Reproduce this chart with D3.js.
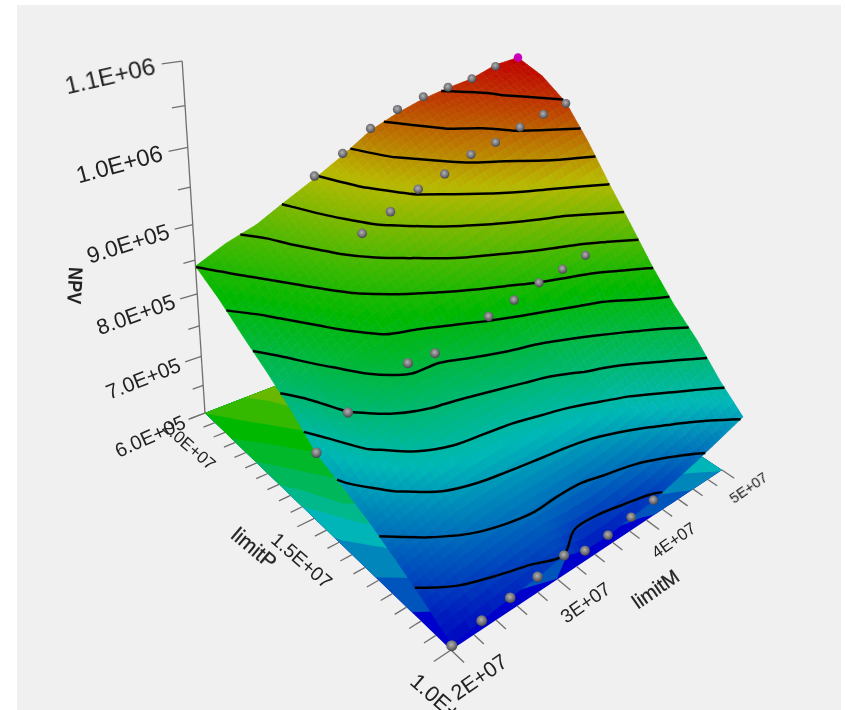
<!DOCTYPE html>
<html>
<head>
<meta charset="utf-8">
<script src="https://cdn.jsdelivr.net/npm/d3@7"></script>
<style>
  html, body { margin: 0; background: #fff; }
  svg { display: block; }
  text { font-family: 'Liberation Sans', Arial, sans-serif; fill: #222; }
</style>
</head>
<body>
<div id="graf"></div>
<script>
// I. Datos
limitM = [2e7, 2.25e7, 2.5e7, 2.75e7, 3e7, 3.25e7, 3.5e7, 3.75e7, 4e7, 4.25e7, 4.5e7, 4.75e7, 5e7]
limitP = [1e7, 1.1e7, 1.2e7, 1.3e7, 1.4e7, 1.5e7, 1.6e7, 1.7e7, 1.8e7, 1.9e7, 2e7]

// NPV en miles, una fila por cada limitP
npv10 = [609, 620, 628, 635, 643, 625, 625, 631, 638, 652, 667, 684, 702]
npv11 = [636, 650, 659, 666, 669, 667, 667, 673, 680, 691, 705, 720, 735]
npv12 = [659, 673, 686, 692, 696, 699, 702, 706, 715, 727, 742, 757, 773]
npv13 = [680, 697, 713, 723, 726, 729, 735, 743, 756, 766, 779, 792, 805]
npv14 = [697, 723, 744, 754, 759, 766, 774, 781, 791, 803, 814, 829, 843]
npv15 = [712, 755, 776, 791, 791, 802, 814, 826, 838, 848, 857, 870, 885]
npv16 = [744, 775, 799, 816, 827, 839, 853, 865, 878, 889, 899, 913, 926]
npv17 = [771, 797, 819, 840, 856, 872, 891, 906, 920, 934, 947, 959, 969]
npv18 = [795, 818, 842, 863, 886, 907, 926, 941, 957, 969, 983, 994, 1007]
npv19 = [821, 842, 861, 883, 907, 929, 950, 967, 984, 992, 1004, 1016, 1028]
npv20 = [841, 862, 877, 900, 922, 946, 973, 990, 1003, 1012, 1019, 1033, 1038]
npvFilas = [npv10, npv11, npv12, npv13, npv14, npv15, npv16, npv17, npv18, npv19, npv20]

// niveles de las curvas, en miles
niveles = [643.5, 672, 700, 728, 756, 784.5, 812.5, 840.5, 869, 897, 925, 953.5, 981.5, 1009.5]

// puntos evaluados: [limitM, limitP, NPV en miles]
puntos = [
  [3e7, 2e7, 926], [3.25e7, 2e7, 949], [3.5e7, 2e7, 976], [3.75e7, 2e7, 995], [4e7, 2e7, 1006],
  [4.25e7, 2e7, 1013], [4.5e7, 2e7, 1019], [4.75e7, 2e7, 1031],
  [3e7, 1.8e7, 890], [3.25e7, 1.8e7, 910], [3.5e7, 1.8e7, 932], [3.75e7, 1.8e7, 944], [4e7, 1.8e7, 963],
  [4.25e7, 1.8e7, 972], [4.5e7, 1.8e7, 986], [4.75e7, 1.8e7, 997], [5e7, 1.8e7, 1006],
  [2.25e7, 1.5e7, 756], [2.75e7, 1.5e7, 795], [3e7, 1.5e7, 793], [3.5e7, 1.5e7, 818], [3.75e7, 1.5e7, 829],
  [4e7, 1.5e7, 842], [4.25e7, 1.5e7, 850], [4.5e7, 1.5e7, 859], [2e7, 1.5e7, 713],
  [2e7, 1e7, 608], [2.25e7, 1e7, 619], [2.5e7, 1e7, 628], [2.75e7, 1e7, 635], [3e7, 1e7, 644],
  [3.25e7, 1e7, 624], [3.5e7, 1e7, 625], [3.75e7, 1e7, 632], [4e7, 1e7, 638]
]
puntoMax = [[5e7, 2e7, 1038]]

ticksZ = [600, 650, 700, 750, 800, 850, 900, 950, 1000, 1050, 1100]
etiquetasZ = ['6.0E+05', '7.0E+05', '8.0E+05', '9.0E+05', '1.0E+06', '1.1E+06']
valoresEtiquetasZ = [600, 700, 800, 900, 1000, 1100]
ticksP = d3.range(0, 21).map(i => 1e7 + i * 5e5)
etiquetasP = ['1.0E+07', '1.5E+07', '2.0E+07']
valoresEtiquetasP = [1e7, 1.5e7, 2e7]
ticksM = d3.range(0, 16).map(i => 2e7 + i * 2e6)
etiquetasM = ['2E+07', '3E+07', '4E+07', '5E+07']
valoresEtiquetasM = [2e7, 3e7, 4e7, 5e7]

// II. Configuración
ancho_total = 846
alto_total = 710

svgBase = d3.select('#graf').append('svg')
  .attr('width', ancho_total)
  .attr('height', alto_total)

// la imagen original se ve algo suavizada
svgBase.append('defs').append('filter')
  .attr('id', 'suave')
  .attr('filterUnits', 'userSpaceOnUse')
  .attr('x', 0).attr('y', 0).attr('width', ancho_total).attr('height', alto_total)
  .append('feGaussianBlur').attr('stdDeviation', 0.55)

svgBase.append('rect')
  .attr('x', 17)
  .attr('y', 5)
  .attr('width', 824)
  .attr('height', 705)
  .attr('fill', '#f0f0f0')

svg = svgBase.append('g').attr('filter', 'url(#suave)')

// Escaladores: cada eje a 0..1 y luego la perspectiva
sm = d3.scaleLinear().domain([2e7, 5e7]).range([0, 1])
sp = d3.scaleLinear().domain([1e7, 2e7]).range([0, 1])
sz = d3.scaleLinear().domain([600, 1100]).range([0, 1])

color = d3.scaleLinear()
  .domain([608, 715.5, 823, 930.5, 1038])
  .range(['#0000c0', '#00b8b8', '#00b800', '#b8b800', '#c00000'])
  .clamp(true)

function peso(M, P, N) {
  return 1 + 0.2955 * sm(M) + 0.25 * sp(P) - 0.289 * sz(N)
}

function proy(M, P, N) {
  m = sm(M)
  p = sp(P)
  z = sz(N)
  w = peso(M, P, N)
  return [(451 + 484.3 * m - 194.75 * p - 81.2 * z) / w,
          (650 - 41.1 * m - 133.75 * p - 457.5 * z) / w]
}

// indices de la malla a limitM, limitP
gridM = d3.scaleLinear().domain([0.5, limitM.length - 0.5]).range([limitM[0], limitM[limitM.length - 1]]).clamp(true)
gridP = d3.scaleLinear().domain([0.5, limitP.length - 0.5]).range([limitP[0], limitP[limitP.length - 1]]).clamp(true)

valores = npvFilas.flat()
contornos = d3.contours()
  .size([limitM.length, limitP.length])
  .thresholds(niveles)(valores)

// III. Piso con las bandas de color
pathRect = (M0, M1, P0, P1, N) => 'M' + [proy(M0, P0, N), proy(M1, P0, N), proy(M1, P1, N), proy(M0, P1, N)].join('L') + 'Z'

piso = svg.append('g')
piso.append('path')
  .attr('d', pathRect(2e7, 5e7, 1e7, 2e7, 600))
  .attr('fill', '#0000cc')

nivelesTodos = niveles.concat([1040])
piso.selectAll('.banda')
  .data(contornos)
  .enter().append('path')
    .attr('class', 'banda')
    .attr('fill-rule', 'evenodd')
    .attr('fill', (d, i) => color((nivelesTodos[i] + nivelesTodos[i + 1]) / 2))
    .attr('d', d => d.coordinates.map(pol => pol.map(ring =>
      'M' + ring.map(q => proy(gridM(q[0]), gridP(q[1]), 600)).join('L') + 'Z').join('')).join(''))

// IV. Ejes
ejes = svg.append('g')
  .attr('stroke', '#707070')
  .attr('stroke-width', 1.3)

ejes.append('path')
  .attr('fill', 'none')
  .attr('d', 'M' + proy(2e7, 2e7, 600) + 'L' + proy(2e7, 2e7, 1100))

ejes.selectAll('.tz')
  .data(ticksZ)
  .enter().append('path')
    .attr('class', 'tz')
    .attr('d', d => 'M' + proy(2e7, 2e7, d) + 'L' + proy(2e7 - (d % 100 == 0 ? 1.35e6 : 9e5), 2e7, d))

ejes.selectAll('.tp')
  .data(ticksP)
  .enter().append('path')
    .attr('class', 'tp')
    .attr('d', d => 'M' + proy(2e7, d, 600) + 'L' + proy(2e7 - (d % 5e6 == 0 ? 1.45e6 : 1e6), d, 600))

ejes.selectAll('.tm')
  .data(ticksM)
  .enter().append('path')
    .attr('class', 'tm')
    .attr('d', d => 'M' + proy(d, 1e7, 600) + 'L' + proy(d, 1e7 - (d % 1e7 == 0 ? 4.2e5 : 3.2e5), 600))

// V. Superficie, del fondo hacia el frente
sub = 5
celdas = []
for (j = limitP.length - 2; j >= 0; j--) {
  for (i = limitM.length - 2; i >= 0; i--) {
    for (b = sub - 1; b >= 0; b--) {
      for (a = sub - 1; a >= 0; a--) {
        celdas.push({ i: i, j: j, a: a, b: b })
      }
    }
  }
}

function altura(i, j, u, v) {
  f0 = npvFilas[j]
  f1 = npvFilas[j + 1]
  return (f0[i] * (1 - u) + f0[i + 1] * u) * (1 - v) + (f1[i] * (1 - u) + f1[i + 1] * u) * v
}

function vertice(c, da, db) {
  u = (c.a + da) / sub
  v = (c.b + db) / sub
  return proy(limitM[c.i] + (limitM[c.i + 1] - limitM[c.i]) * u,
              limitP[c.j] + (limitP[c.j + 1] - limitP[c.j]) * v,
              altura(c.i, c.j, u, v))
}

svg.append('g').selectAll('path')
  .data(celdas)
  .enter().append('path')
    .attr('d', c => 'M' + [vertice(c, 0, 0), vertice(c, 1, 0), vertice(c, 1, 1), vertice(c, 0, 1)].join('L') + 'Z')
    .attr('fill', c => color(altura(c.i, c.j, (c.a + 0.5) / sub, (c.b + 0.5) / sub)))
    .attr('stroke', c => color(altura(c.i, c.j, (c.a + 0.5) / sub, (c.b + 0.5) / sub)))
    .attr('stroke-width', 0.7)

// VI. Curvas de nivel, sin los tramos que corren por el borde de la malla
nx = limitM.length
ny = limitP.length
enBorde = (q, r) => (q[0] <= 0.5 && r[0] <= 0.5) || (q[0] >= nx - 0.5 && r[0] >= nx - 0.5) ||
                    (q[1] <= 0.5 && r[1] <= 0.5) || (q[1] >= ny - 0.5 && r[1] >= ny - 0.5)

linea = d3.line().curve(d3.curveCatmullRom.alpha(0.5))

contornos.forEach((c, k) => {
  trozos = []
  c.coordinates.forEach(pol => pol.forEach(ring => {
    actual = []
    for (t = 0; t < ring.length - 1; t++) {
      if (enBorde(ring[t], ring[t + 1])) {
        if (actual.length > 1) trozos.push(actual)
        actual = []
      } else {
        if (actual.length == 0) actual.push(ring[t])
        actual.push(ring[t + 1])
      }
    }
    if (actual.length > 1) trozos.push(actual)
  }))

  svg.append('g').selectAll('path')
    .data(trozos)
    .enter().append('path')
      .attr('fill', 'none')
      .attr('stroke', '#050505')
      .attr('stroke-width', 2.5)
      .attr('stroke-linejoin', 'round')
      .attr('d', d => linea(d.map(q => proy(gridM(q[0]), gridP(q[1]), niveles[k]))))
})

// VII. Puntos
bola = svgBase.select('defs').append('radialGradient').attr('id', 'bola').attr('cx', '45%').attr('cy', '40%').attr('r', '60%')
bola.append('stop').attr('offset', '0%').attr('stop-color', '#b4b4b0')
bola.append('stop').attr('offset', '60%').attr('stop-color', '#74747a')
bola.append('stop').attr('offset', '100%').attr('stop-color', '#45454a')

svg.append('g').selectAll('circle')
  .data(puntos)
  .enter().append('circle')
    .attr('cx', d => proy(d[0], d[1], d[2])[0])
    .attr('cy', d => proy(d[0], d[1], d[2])[1])
    .attr('r', d => 5.5 / peso(d[0], d[1], d[2]))
    .attr('fill', 'url(#bola)')

svg.append('g').selectAll('circle')
  .data(puntoMax)
  .enter().append('circle')
    .attr('cx', d => proy(d[0], d[1], d[2])[0])
    .attr('cy', d => proy(d[0], d[1], d[2])[1])
    .attr('r', d => 5.5 / peso(d[0], d[1], d[2]))
    .attr('fill', '#c800b8')

// VIII. Textos
fzFont = d3.scaleLinear().domain([600, 1100]).range([20, 24.5])
fzAng = d3.scaleLinear().domain([600, 1100]).range([-24, -13])
fpFont = d3.scaleLinear().domain([1e7, 2e7]).range([22, 17])
fmFont = d3.scaleLinear().domain([2e7, 5e7]).range([21.5, 14.5])

function rotado(sel, pos, ang) {
  sel.attr('transform', d => {
    q = pos(d)
    return `translate(${q[0]},${q[1]}) rotate(${ang(d)})`
  })
}

svg.append('g').selectAll('text')
  .data(valoresEtiquetasZ)
  .enter().append('text')
    .attr('text-anchor', 'end')
    .attr('dominant-baseline', 'central')
    .attr('font-size', d => fzFont(d))
    .text((d, i) => etiquetasZ[i])
    .call(rotado, d => proy(2e7 - 1.8e6, 2e7, d), d => fzAng(d))

svg.append('g').selectAll('text')
  .data(valoresEtiquetasP)
  .enter().append('text')
    .attr('text-anchor', 'middle')
    .attr('dominant-baseline', 'central')
    .attr('font-size', d => fpFont(d))
    .text((d, i) => etiquetasP[i])
    .call(rotado, d => proy(2e7 - 3.03e6, d - 9.6e5, 600), () => 41)

svg.append('g').selectAll('text')
  .data(valoresEtiquetasM)
  .enter().append('text')
    .attr('text-anchor', 'middle')
    .attr('dominant-baseline', 'central')
    .attr('font-size', d => fmFont(d))
    .text((d, i) => etiquetasM[i])
    .call(rotado, d => proy(d, 1e7 - 9e5, 600), () => -35)

svg.append('g').selectAll('text')
  .data([
    { t: 'limitP', M: 1.505e7, P: 1.5e7, N: 600, s: 21, a: 40 },
    { t: 'limitM', M: 3.5e7, P: 1e7 - 1.65e6, N: 600, s: 20, a: -35 }
  ])
  .enter().append('text')
    .attr('text-anchor', 'middle')
    .attr('dominant-baseline', 'central')
    .attr('font-size', d => d.s)
    .attr('stroke', '#222')
    .attr('stroke-width', 0.3)
    .text(d => d.t)
    .call(rotado, d => proy(d.M, d.P, d.N), d => d.a)

svg.append('g').selectAll('text')
  .data([{ t: 'NPV', M: 1.147e7, P: 2e7, N: 860 }])
  .enter().append('text')
    .attr('text-anchor', 'middle')
    .attr('dominant-baseline', 'central')
    .attr('font-size', 20)
    .attr('font-weight', 'bold')
    .attr('textLength', 37)
    .attr('lengthAdjust', 'spacingAndGlyphs')
    .text(d => d.t)
    .call(rotado, d => proy(d.M, d.P, d.N), () => 93)
</script>
</body>
</html>
